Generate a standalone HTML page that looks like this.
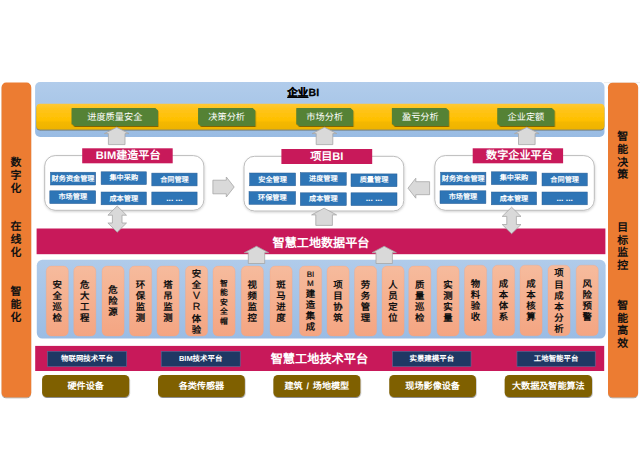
<!DOCTYPE html>
<html lang="zh-CN"><head><meta charset="utf-8"><title>diagram</title>
<style>
html,body{margin:0;padding:0;background:#fff}
body{width:640px;height:471px;position:relative;overflow:hidden;font-family:"Liberation Sans",sans-serif;text-rendering:geometricPrecision}
svg{position:absolute;left:0;top:0}
.t{position:absolute;box-sizing:border-box;white-space:nowrap;text-align:center}
.vt{width:20px;height:18px;line-height:18px;font-weight:bold;color:#111}
.title{font-size:10.5px;font-weight:bold;color:#000;height:16px;line-height:16px;-webkit-text-stroke:.25px #000;letter-spacing:.2px}
.green{color:#fff;font-size:9.2px}
.plabel{color:#fff;font-weight:bold;font-size:11.1px}
.cell{color:#fff;font-weight:bold;font-size:7.15px;padding-top:.6px}
.band{color:#fff;font-weight:bold;font-size:12.1px}
.sal{color:#111;font-weight:bold}
.salin{position:absolute;left:0;width:21.9px;top:49.8%;transform:translateY(-50%);white-space:normal}
.salin span{display:block}
.salin .asc{font-weight:normal;font-size:8px;-webkit-text-stroke:.2px #111}
.dblue{color:#fff;font-weight:bold;font-size:7.45px}
.brown{color:#fff;font-weight:bold;font-size:9.1px}
.arr{fill:#d9d9d9;stroke:#a6a6a6;stroke-width:.8;stroke-linejoin:miter}
</style></head><body>
<svg width="640" height="471" viewBox="0 0 640 471">
<defs>
<linearGradient id="gb" x1="0" y1="0" x2="0" y2="1"><stop offset="0" stop-color="#b1cceb"/><stop offset=".55" stop-color="#a7c5e7"/><stop offset="1" stop-color="#98bbe3"/></linearGradient>
<linearGradient id="gb2" x1="0" y1="0" x2="0" y2="1"><stop offset="0" stop-color="#b0cbea"/><stop offset=".5" stop-color="#a6c4e7"/><stop offset="1" stop-color="#9abce4"/></linearGradient>
<linearGradient id="gy" x1="0" y1="0" x2="0" y2="1"><stop offset="0" stop-color="#ffc936"/><stop offset=".22" stop-color="#ffc41a"/><stop offset=".64" stop-color="#ffc000"/><stop offset=".72" stop-color="#f4b800"/><stop offset="1" stop-color="#eeb300"/></linearGradient>
<linearGradient id="gs" x1="0" y1="0" x2="0" y2="1"><stop offset="0" stop-color="#f6bb9d"/><stop offset="1" stop-color="#f4a582"/></linearGradient>
<filter id="sh" x="-20%" y="-5%" width="140%" height="110%"><feDropShadow dx="0" dy="1" stdDeviation=".7" flood-color="#000" flood-opacity=".4"/></filter>
<filter id="shy" x="-5%" y="-20%" width="110%" height="150%"><feDropShadow dx="0" dy="1" stdDeviation=".7" flood-color="#3c2800" flood-opacity=".55"/></filter>
<filter id="sh2" x="-10%" y="-20%" width="120%" height="150%"><feDropShadow dx=".4" dy="1" stdDeviation=".7" flood-color="#000" flood-opacity=".45"/></filter>
<filter id="sh3" x="-5%" y="-10%" width="110%" height="125%"><feDropShadow dx=".3" dy="1" stdDeviation=".8" flood-color="#000" flood-opacity=".18"/></filter>
</defs>
<rect x="1.60" y="82.60" width="29.60" height="314.60" rx="4.5" fill="#EC7C30" filter="url(#sh)"/>
<rect x="604" y="82.3" width="36" height=".8" fill="#e9e9e9"/>
<rect x="608.00" y="82.70" width="30.10" height="314.50" rx="4.5" fill="#EC7C30" filter="url(#sh)"/>
<rect x="35.10" y="82.10" width="569.40" height="54.80" rx="5" fill="url(#gb)" />
<rect x="36.30" y="103.70" width="568.10" height="25.70" rx="4" fill="url(#gy)" filter="url(#shy)"/>
<path d="M71.6,108 H155.4 L158,110.6 V125.9 H74.19999999999999 L71.6,123.30000000000001 Z" fill="#548235" filter="url(#sh2)"/>
<path d="M198.1,108 H252.70000000000002 L255.3,110.6 V125.9 H200.7 L198.1,123.30000000000001 Z" fill="#548235" filter="url(#sh2)"/>
<path d="M296.3,108 H350.59999999999997 L353.2,110.6 V125.9 H298.90000000000003 L296.3,123.30000000000001 Z" fill="#548235" filter="url(#sh2)"/>
<path d="M391.9,108 H446.2 L448.8,110.6 V125.9 H394.5 L391.9,123.30000000000001 Z" fill="#548235" filter="url(#sh2)"/>
<path d="M497.3,108 H551.9 L554.5,110.6 V125.9 H499.90000000000003 L497.3,123.30000000000001 Z" fill="#548235" filter="url(#sh2)"/>
<rect x="44.70" y="155.60" width="159.20" height="54.70" rx="10.5" fill="#fff" stroke="#bcbcbc" stroke-width="1" filter="url(#sh3)"/>
<rect x="244.00" y="156.30" width="159.80" height="54.70" rx="10.5" fill="#fff" stroke="#bcbcbc" stroke-width="1" filter="url(#sh3)"/>
<rect x="434.80" y="155.60" width="159.50" height="54.70" rx="10.5" fill="#fff" stroke="#bcbcbc" stroke-width="1" filter="url(#sh3)"/>
<rect x="82.20" y="148.30" width="90.50" height="15.00" rx="0" fill="#C8195A" />
<rect x="281.40" y="149.00" width="90.80" height="15.00" rx="0" fill="#C8195A" />
<rect x="472.70" y="148.30" width="90.40" height="15.00" rx="0" fill="#C8195A" />
<rect x="50.40" y="172.20" width="45.30" height="12.80" rx="0" fill="#2E75B6" stroke="#2a5f96" stroke-width=".5"/>
<rect x="101.10" y="171.80" width="45.30" height="12.80" rx="0" fill="#2E75B6" stroke="#2a5f96" stroke-width=".5"/>
<rect x="151.80" y="173.10" width="45.30" height="12.80" rx="0" fill="#2E75B6" stroke="#2a5f96" stroke-width=".5"/>
<rect x="49.80" y="190.80" width="45.90" height="12.80" rx="0" fill="#2E75B6" stroke="#2a5f96" stroke-width=".5"/>
<rect x="101.10" y="192.00" width="45.30" height="12.80" rx="0" fill="#2E75B6" stroke="#2a5f96" stroke-width=".5"/>
<rect x="151.80" y="192.00" width="45.30" height="12.80" rx="0" fill="#2E75B6" stroke="#2a5f96" stroke-width=".5"/>
<rect x="249.60" y="173.00" width="46.00" height="12.80" rx="0" fill="#2E75B6" stroke="#2a5f96" stroke-width=".5"/>
<rect x="300.30" y="172.60" width="46.00" height="12.80" rx="0" fill="#2E75B6" stroke="#2a5f96" stroke-width=".5"/>
<rect x="351.00" y="173.90" width="46.00" height="12.80" rx="0" fill="#2E75B6" stroke="#2a5f96" stroke-width=".5"/>
<rect x="249.00" y="191.60" width="46.60" height="12.80" rx="0" fill="#2E75B6" stroke="#2a5f96" stroke-width=".5"/>
<rect x="300.30" y="192.80" width="46.00" height="12.80" rx="0" fill="#2E75B6" stroke="#2a5f96" stroke-width=".5"/>
<rect x="351.00" y="192.80" width="46.00" height="12.80" rx="0" fill="#2E75B6" stroke="#2a5f96" stroke-width=".5"/>
<rect x="440.60" y="172.20" width="45.30" height="12.80" rx="0" fill="#2E75B6" stroke="#2a5f96" stroke-width=".5"/>
<rect x="491.30" y="171.80" width="45.30" height="12.80" rx="0" fill="#2E75B6" stroke="#2a5f96" stroke-width=".5"/>
<rect x="542.00" y="173.10" width="45.30" height="12.80" rx="0" fill="#2E75B6" stroke="#2a5f96" stroke-width=".5"/>
<rect x="440.00" y="190.80" width="45.90" height="12.80" rx="0" fill="#2E75B6" stroke="#2a5f96" stroke-width=".5"/>
<rect x="491.30" y="192.00" width="45.30" height="12.80" rx="0" fill="#2E75B6" stroke="#2a5f96" stroke-width=".5"/>
<rect x="542.00" y="192.00" width="45.30" height="12.80" rx="0" fill="#2E75B6" stroke="#2a5f96" stroke-width=".5"/>
<rect x="36.60" y="228.50" width="568.80" height="25.70" rx="0" fill="#C8195A" />
<rect x="35.20" y="345.90" width="569.00" height="25.10" rx="0" fill="#C8195A" />
<rect x="36.80" y="259.80" width="568.80" height="78.80" rx="5.5" fill="url(#gb2)" />
<rect x="46.25" y="266.10" width="22.10" height="70.00" rx="5" fill="url(#gs)" stroke="#f0a280" stroke-opacity=".6" stroke-width=".5"/>
<rect x="73.75" y="266.10" width="22.10" height="70.00" rx="5" fill="url(#gs)" stroke="#f0a280" stroke-opacity=".6" stroke-width=".5"/>
<rect x="102.00" y="266.10" width="22.10" height="70.00" rx="5" fill="url(#gs)" stroke="#f0a280" stroke-opacity=".6" stroke-width=".5"/>
<rect x="129.50" y="266.10" width="22.10" height="70.00" rx="5" fill="url(#gs)" stroke="#f0a280" stroke-opacity=".6" stroke-width=".5"/>
<rect x="157.00" y="266.10" width="22.10" height="70.00" rx="5" fill="url(#gs)" stroke="#f0a280" stroke-opacity=".6" stroke-width=".5"/>
<rect x="185.50" y="266.10" width="22.10" height="70.00" rx="5" fill="url(#gs)" stroke="#f0a280" stroke-opacity=".6" stroke-width=".5"/>
<rect x="213.00" y="266.10" width="22.10" height="70.00" rx="5" fill="url(#gs)" stroke="#f0a280" stroke-opacity=".6" stroke-width=".5"/>
<rect x="241.25" y="266.10" width="22.10" height="70.00" rx="5" fill="url(#gs)" stroke="#f0a280" stroke-opacity=".6" stroke-width=".5"/>
<rect x="270.00" y="266.10" width="22.10" height="70.00" rx="5" fill="url(#gs)" stroke="#f0a280" stroke-opacity=".6" stroke-width=".5"/>
<rect x="299.50" y="266.10" width="22.10" height="70.00" rx="5" fill="url(#gs)" stroke="#f0a280" stroke-opacity=".6" stroke-width=".5"/>
<rect x="327.00" y="266.10" width="22.10" height="70.00" rx="5" fill="url(#gs)" stroke="#f0a280" stroke-opacity=".6" stroke-width=".5"/>
<rect x="354.50" y="266.10" width="22.10" height="70.00" rx="5" fill="url(#gs)" stroke="#f0a280" stroke-opacity=".6" stroke-width=".5"/>
<rect x="382.00" y="266.10" width="22.10" height="70.00" rx="5" fill="url(#gs)" stroke="#f0a280" stroke-opacity=".6" stroke-width=".5"/>
<rect x="408.75" y="266.10" width="22.10" height="70.00" rx="5" fill="url(#gs)" stroke="#f0a280" stroke-opacity=".6" stroke-width=".5"/>
<rect x="437.00" y="266.10" width="22.10" height="70.00" rx="5" fill="url(#gs)" stroke="#f0a280" stroke-opacity=".6" stroke-width=".5"/>
<rect x="464.50" y="265.20" width="22.10" height="70.50" rx="5" fill="url(#gs)" stroke="#f0a280" stroke-opacity=".6" stroke-width=".5"/>
<rect x="492.50" y="265.20" width="22.10" height="70.50" rx="5" fill="url(#gs)" stroke="#f0a280" stroke-opacity=".6" stroke-width=".5"/>
<rect x="520.00" y="265.20" width="22.10" height="70.50" rx="5" fill="url(#gs)" stroke="#f0a280" stroke-opacity=".6" stroke-width=".5"/>
<rect x="548.00" y="265.20" width="22.10" height="70.50" rx="5" fill="url(#gs)" stroke="#f0a280" stroke-opacity=".6" stroke-width=".5"/>
<rect x="576.20" y="265.20" width="22.10" height="70.50" rx="5" fill="url(#gs)" stroke="#f0a280" stroke-opacity=".6" stroke-width=".5"/>
<rect x="47.60" y="351.30" width="79.00" height="15.20" rx="0" fill="#1F3864" stroke="#5a6c99" stroke-width=".6"/>
<rect x="161.20" y="351.30" width="79.00" height="15.20" rx="0" fill="#1F3864" stroke="#5a6c99" stroke-width=".6"/>
<rect x="392.60" y="351.30" width="78.40" height="15.20" rx="0" fill="#1F3864" stroke="#5a6c99" stroke-width=".6"/>
<rect x="517.00" y="351.30" width="78.20" height="15.20" rx="0" fill="#1F3864" stroke="#5a6c99" stroke-width=".6"/>
<rect x="42.10" y="374.90" width="87.10" height="22.10" rx="4.5" fill="#7F6000" filter="url(#sh2)"/>
<rect x="158.00" y="374.90" width="86.80" height="22.10" rx="4.5" fill="#7F6000" filter="url(#sh2)"/>
<rect x="273.40" y="374.90" width="86.90" height="22.10" rx="4.5" fill="#7F6000" filter="url(#sh2)"/>
<rect x="389.30" y="374.90" width="86.70" height="22.10" rx="4.5" fill="#7F6000" filter="url(#sh2)"/>
<rect x="504.70" y="374.90" width="87.30" height="22.10" rx="4.5" fill="#7F6000" filter="url(#sh2)"/>
<polygon class="arr" points="116.7,127.3 129.0,133.6 125.0,133.6 125.0,144.6 108.4,144.6 108.4,133.6 104.4,133.6"/>
<polygon class="arr" points="324.5,127.3 336.8,133.6 332.8,133.6 332.8,144.6 316.2,144.6 316.2,133.6 312.2,133.6"/>
<polygon class="arr" points="526.8,127.3 539.0999999999999,133.6 535.0999999999999,133.6 535.0999999999999,144.6 518.5,144.6 518.5,133.6 514.5,133.6"/>
<polygon class="arr" points="256.5,246.3 268.7,252.70000000000002 264.7,252.70000000000002 264.7,263.5 248.3,263.5 248.3,252.70000000000002 244.3,252.70000000000002"/>
<polygon class="arr" points="384.2,246.3 396.4,252.70000000000002 392.4,252.70000000000002 392.4,263.5 376.0,263.5 376.0,252.70000000000002 372.0,252.70000000000002"/>
<polygon class="arr" points="324.1,208.2 336.6,214.89999999999998 332.40000000000003,214.89999999999998 332.40000000000003,225.4 315.8,225.4 315.8,214.89999999999998 311.6,214.89999999999998"/>
<polygon class="arr" points="117.2,206 126.5,215.2 122.0,215.2 122.0,223.0 126.5,223.0 117.2,232.2 107.9,223.0 112.4,223.0 112.4,215.2 107.9,215.2"/>
<polygon class="arr" points="511.6,207.2 521.0,216.39999999999998 516.4,216.39999999999998 516.4,224.5 521.0,224.5 511.6,233.7 502.20000000000005,224.5 506.8,224.5 506.8,216.39999999999998 502.20000000000005,216.39999999999998"/>
<polygon class="arr" points="234.2,187 226.29999999999998,177 226.29999999999998,180.2 212.9,180.2 212.9,193.8 226.29999999999998,193.8 226.29999999999998,197"/>
<polygon class="arr" points="408,188.2 415.8,178.2 415.8,181.7 429.6,181.7 429.6,194.7 415.8,194.7 415.8,198.2"/>
</svg>
<div class="t vt" style="left:5.90px;top:153.50px;font-size:10.9px">数</div>
<div class="t vt" style="left:5.90px;top:166.50px;font-size:10.9px">字</div>
<div class="t vt" style="left:5.90px;top:179.50px;font-size:10.9px">化</div>
<div class="t vt" style="left:5.90px;top:218.10px;font-size:10.9px">在</div>
<div class="t vt" style="left:5.90px;top:231.10px;font-size:10.9px">线</div>
<div class="t vt" style="left:5.90px;top:244.10px;font-size:10.9px">化</div>
<div class="t vt" style="left:5.90px;top:283.40px;font-size:10.9px">智</div>
<div class="t vt" style="left:5.90px;top:296.40px;font-size:10.9px">能</div>
<div class="t vt" style="left:5.90px;top:309.40px;font-size:10.9px">化</div>
<div class="t vt" style="left:612.70px;top:128.10px;font-size:10.9px">智</div>
<div class="t vt" style="left:612.70px;top:140.80px;font-size:10.9px">能</div>
<div class="t vt" style="left:612.70px;top:153.50px;font-size:10.9px">决</div>
<div class="t vt" style="left:612.70px;top:166.20px;font-size:10.9px">策</div>
<div class="t vt" style="left:612.70px;top:218.80px;font-size:10.9px">目</div>
<div class="t vt" style="left:612.70px;top:231.50px;font-size:10.9px">标</div>
<div class="t vt" style="left:612.70px;top:244.20px;font-size:10.9px">监</div>
<div class="t vt" style="left:612.70px;top:256.90px;font-size:10.9px">控</div>
<div class="t vt" style="left:612.70px;top:296.80px;font-size:10.9px">智</div>
<div class="t vt" style="left:612.70px;top:309.50px;font-size:10.9px">能</div>
<div class="t vt" style="left:612.70px;top:322.20px;font-size:10.9px">高</div>
<div class="t vt" style="left:612.70px;top:334.90px;font-size:10.9px">效</div>
<div class="t title" style="left:253.3px;top:84.6px;width:100px"><u>企业</u>BI</div>
<div class="t green" style="left:71.60px;top:108.00px;width:86.40px;height:17.90px;line-height:17.90px;line-height:19.4px">进度质量安全</div>
<div class="t green" style="left:198.10px;top:108.00px;width:57.20px;height:17.90px;line-height:17.90px;line-height:19.4px">决策分析</div>
<div class="t green" style="left:296.30px;top:108.00px;width:56.90px;height:17.90px;line-height:17.90px;line-height:19.4px">市场分析</div>
<div class="t green" style="left:391.90px;top:108.00px;width:56.90px;height:17.90px;line-height:17.90px;line-height:19.4px">盈亏分析</div>
<div class="t green" style="left:497.30px;top:108.00px;width:57.20px;height:17.90px;line-height:17.90px;line-height:19.4px">企业定额</div>
<div class="t plabel" style="left:82.20px;top:148.30px;width:90.50px;height:15.00px;line-height:15.00px;text-indent:1.5px;line-height:16.6px">BIM建造平台</div>
<div class="t plabel" style="left:281.40px;top:149.00px;width:90.80px;height:15.00px;line-height:15.00px;line-height:16.6px">项目BI</div>
<div class="t plabel" style="left:472.70px;top:148.30px;width:90.40px;height:15.00px;line-height:15.00px;text-indent:3px;line-height:16.6px">数字企业平台</div>
<div class="t cell" style="left:50.40px;top:172.20px;width:45.30px;height:12.80px;line-height:12.80px;">财务资金管理</div>
<div class="t cell" style="left:101.10px;top:171.80px;width:45.30px;height:12.80px;line-height:12.80px;">集中采购</div>
<div class="t cell" style="left:151.80px;top:173.10px;width:45.30px;height:12.80px;line-height:12.80px;">合同管理</div>
<div class="t cell" style="left:49.80px;top:190.80px;width:45.90px;height:12.80px;line-height:12.80px;">市场管理</div>
<div class="t cell" style="left:101.10px;top:192.00px;width:45.30px;height:12.80px;line-height:12.80px;">成本管理</div>
<div class="t cell" style="left:151.80px;top:192.00px;width:45.30px;height:12.80px;line-height:12.80px;font-size:8.5px;line-height:10.5px">... ...</div>
<div class="t cell" style="left:249.60px;top:173.00px;width:46.00px;height:12.80px;line-height:12.80px;">安全管理</div>
<div class="t cell" style="left:300.30px;top:172.60px;width:46.00px;height:12.80px;line-height:12.80px;">进度管理</div>
<div class="t cell" style="left:351.00px;top:173.90px;width:46.00px;height:12.80px;line-height:12.80px;">质量管理</div>
<div class="t cell" style="left:249.00px;top:191.60px;width:46.60px;height:12.80px;line-height:12.80px;">环保管理</div>
<div class="t cell" style="left:300.30px;top:192.80px;width:46.00px;height:12.80px;line-height:12.80px;">成本管理</div>
<div class="t cell" style="left:351.00px;top:192.80px;width:46.00px;height:12.80px;line-height:12.80px;font-size:8.5px;line-height:10.5px">... ...</div>
<div class="t cell" style="left:440.60px;top:172.20px;width:45.30px;height:12.80px;line-height:12.80px;">财务资金管理</div>
<div class="t cell" style="left:491.30px;top:171.80px;width:45.30px;height:12.80px;line-height:12.80px;">集中采购</div>
<div class="t cell" style="left:542.00px;top:173.10px;width:45.30px;height:12.80px;line-height:12.80px;">合同管理</div>
<div class="t cell" style="left:440.00px;top:190.80px;width:45.90px;height:12.80px;line-height:12.80px;">市场管理</div>
<div class="t cell" style="left:491.30px;top:192.00px;width:45.30px;height:12.80px;line-height:12.80px;">成本管理</div>
<div class="t cell" style="left:542.00px;top:192.00px;width:45.30px;height:12.80px;line-height:12.80px;font-size:8.5px;line-height:10.5px">... ...</div>
<div class="t band" style="left:36.60px;top:228.50px;width:568.80px;height:25.70px;line-height:25.70px;line-height:28.2px">智慧工地数据平台</div>
<div class="t band" style="left:35.20px;top:345.90px;width:569.00px;height:25.10px;line-height:25.10px;text-indent:-0.5px;line-height:27.2px;font-size:12.2px">智慧工地技术平台</div>
<div class="t sal" style="left:46.25px;top:266.1px;width:21.9px;height:70px;font-size:9.4px;line-height:11.1px"><div class="salin" style="margin-top:0px"><span>安</span><span>全</span><span>巡</span><span>检</span></div></div>
<div class="t sal" style="left:73.75px;top:266.1px;width:21.9px;height:70px;font-size:9.4px;line-height:11.1px"><div class="salin" style="margin-top:0px"><span>危</span><span>大</span><span>工</span><span>程</span></div></div>
<div class="t sal" style="left:102.00px;top:266.1px;width:21.9px;height:70px;font-size:9.4px;line-height:11.1px"><div class="salin" style="margin-top:0px"><span>危</span><span>险</span><span>源</span></div></div>
<div class="t sal" style="left:129.50px;top:266.1px;width:21.9px;height:70px;font-size:9.4px;line-height:11.1px"><div class="salin" style="margin-top:0px"><span>环</span><span>保</span><span>监</span><span>测</span></div></div>
<div class="t sal" style="left:157.00px;top:266.1px;width:21.9px;height:70px;font-size:9.4px;line-height:11.1px"><div class="salin" style="margin-top:0px"><span>塔</span><span>吊</span><span>监</span><span>测</span></div></div>
<div class="t sal" style="left:185.50px;top:266.1px;width:21.9px;height:70px;font-size:9.4px;line-height:11.1px"><div class="salin" style="margin-top:0.4px"><span>安</span><span>全</span><span class="asc" style="font-size:10.5px">V</span><span class="asc" style="font-size:10.5px">R</span><span>体</span><span>验</span></div></div>
<div class="t sal" style="left:213.00px;top:266.1px;width:21.9px;height:70px;font-size:7.8px;line-height:9.5px"><div class="salin" style="margin-top:1.6px"><span>智</span><span>能</span><span>安</span><span>全</span><span>帽</span></div></div>
<div class="t sal" style="left:241.25px;top:266.1px;width:21.9px;height:70px;font-size:9.4px;line-height:11.1px"><div class="salin" style="margin-top:0px"><span>视</span><span>频</span><span>监</span><span>控</span></div></div>
<div class="t sal" style="left:270.00px;top:266.1px;width:21.9px;height:70px;font-size:9.4px;line-height:11.1px"><div class="salin" style="margin-top:0px"><span>斑</span><span>马</span><span>进</span><span>度</span></div></div>
<div class="t sal" style="left:299.50px;top:266.1px;width:21.9px;height:70px;font-size:9.4px;line-height:11.1px"><div class="salin" style="margin-top:0.4px"><span class="asc" style="line-height:8.9px">BI</span><span class="asc" style="line-height:8.9px">M</span><span style="line-height:10.8px">建</span><span style="line-height:10.8px">造</span><span style="line-height:10.8px">集</span><span style="line-height:10.8px">成</span></div></div>
<div class="t sal" style="left:327.00px;top:266.1px;width:21.9px;height:70px;font-size:9.4px;line-height:11.1px"><div class="salin" style="margin-top:0px"><span>项</span><span>目</span><span>协</span><span>筑</span></div></div>
<div class="t sal" style="left:354.50px;top:266.1px;width:21.9px;height:70px;font-size:9.4px;line-height:11.1px"><div class="salin" style="margin-top:0px"><span>劳</span><span>务</span><span>管</span><span>理</span></div></div>
<div class="t sal" style="left:382.00px;top:266.1px;width:21.9px;height:70px;font-size:9.4px;line-height:11.1px"><div class="salin" style="margin-top:0px"><span>人</span><span>员</span><span>定</span><span>位</span></div></div>
<div class="t sal" style="left:408.75px;top:266.1px;width:21.9px;height:70px;font-size:9.4px;line-height:11.1px"><div class="salin" style="margin-top:0px"><span>质</span><span>量</span><span>巡</span><span>检</span></div></div>
<div class="t sal" style="left:437.00px;top:266.1px;width:21.9px;height:70px;font-size:9.4px;line-height:11.1px"><div class="salin" style="margin-top:0px"><span>实</span><span>测</span><span>实</span><span>量</span></div></div>
<div class="t sal" style="left:464.50px;top:265.2px;width:21.9px;height:70px;font-size:9.4px;line-height:11.1px"><div class="salin" style="margin-top:0px"><span>物</span><span>料</span><span>验</span><span>收</span></div></div>
<div class="t sal" style="left:492.50px;top:265.2px;width:21.9px;height:70px;font-size:9.4px;line-height:11.1px"><div class="salin" style="margin-top:0px"><span>成</span><span>本</span><span>体</span><span>系</span></div></div>
<div class="t sal" style="left:520.00px;top:265.2px;width:21.9px;height:70px;font-size:9.4px;line-height:11.1px"><div class="salin" style="margin-top:0px"><span>成</span><span>本</span><span>核</span><span>算</span></div></div>
<div class="t sal" style="left:548.00px;top:265.2px;width:21.9px;height:70px;font-size:9.4px;line-height:11.1px"><div class="salin" style="margin-top:0.4px"><span>项</span><span>目</span><span>成</span><span>本</span><span>分</span><span>析</span></div></div>
<div class="t sal" style="left:576.20px;top:265.2px;width:21.9px;height:70px;font-size:9.4px;line-height:11.1px"><div class="salin" style="margin-top:0px"><span>风</span><span>险</span><span>预</span><span>警</span></div></div>
<div class="t dblue" style="left:47.60px;top:351.30px;width:79.00px;height:15.20px;line-height:15.20px;line-height:16.8px">物联网技术平台</div>
<div class="t dblue" style="left:161.20px;top:351.30px;width:79.00px;height:15.20px;line-height:15.20px;line-height:16.8px">BIM技术平台</div>
<div class="t dblue" style="left:392.60px;top:351.30px;width:78.40px;height:15.20px;line-height:15.20px;line-height:16.8px">实景建模平台</div>
<div class="t dblue" style="left:517.00px;top:351.30px;width:78.20px;height:15.20px;line-height:15.20px;line-height:16.8px">工地智能平台</div>
<div class="t brown" style="left:42.10px;top:374.90px;width:87.10px;height:22.10px;line-height:22.10px;line-height:22.8px">硬件设备</div>
<div class="t brown" style="left:158.00px;top:374.90px;width:86.80px;height:22.10px;line-height:22.10px;line-height:22.8px">各类传感器</div>
<div class="t brown" style="left:273.40px;top:374.90px;width:86.90px;height:22.10px;line-height:22.10px;line-height:22.8px"><span style="word-spacing:1.3px">建筑 / 场地模型</span></div>
<div class="t brown" style="left:389.30px;top:374.90px;width:86.70px;height:22.10px;line-height:22.10px;line-height:22.8px">现场影像设备</div>
<div class="t brown" style="left:504.70px;top:374.90px;width:87.30px;height:22.10px;line-height:22.10px;line-height:22.8px">大数据及智能算法</div>
</body></html>
